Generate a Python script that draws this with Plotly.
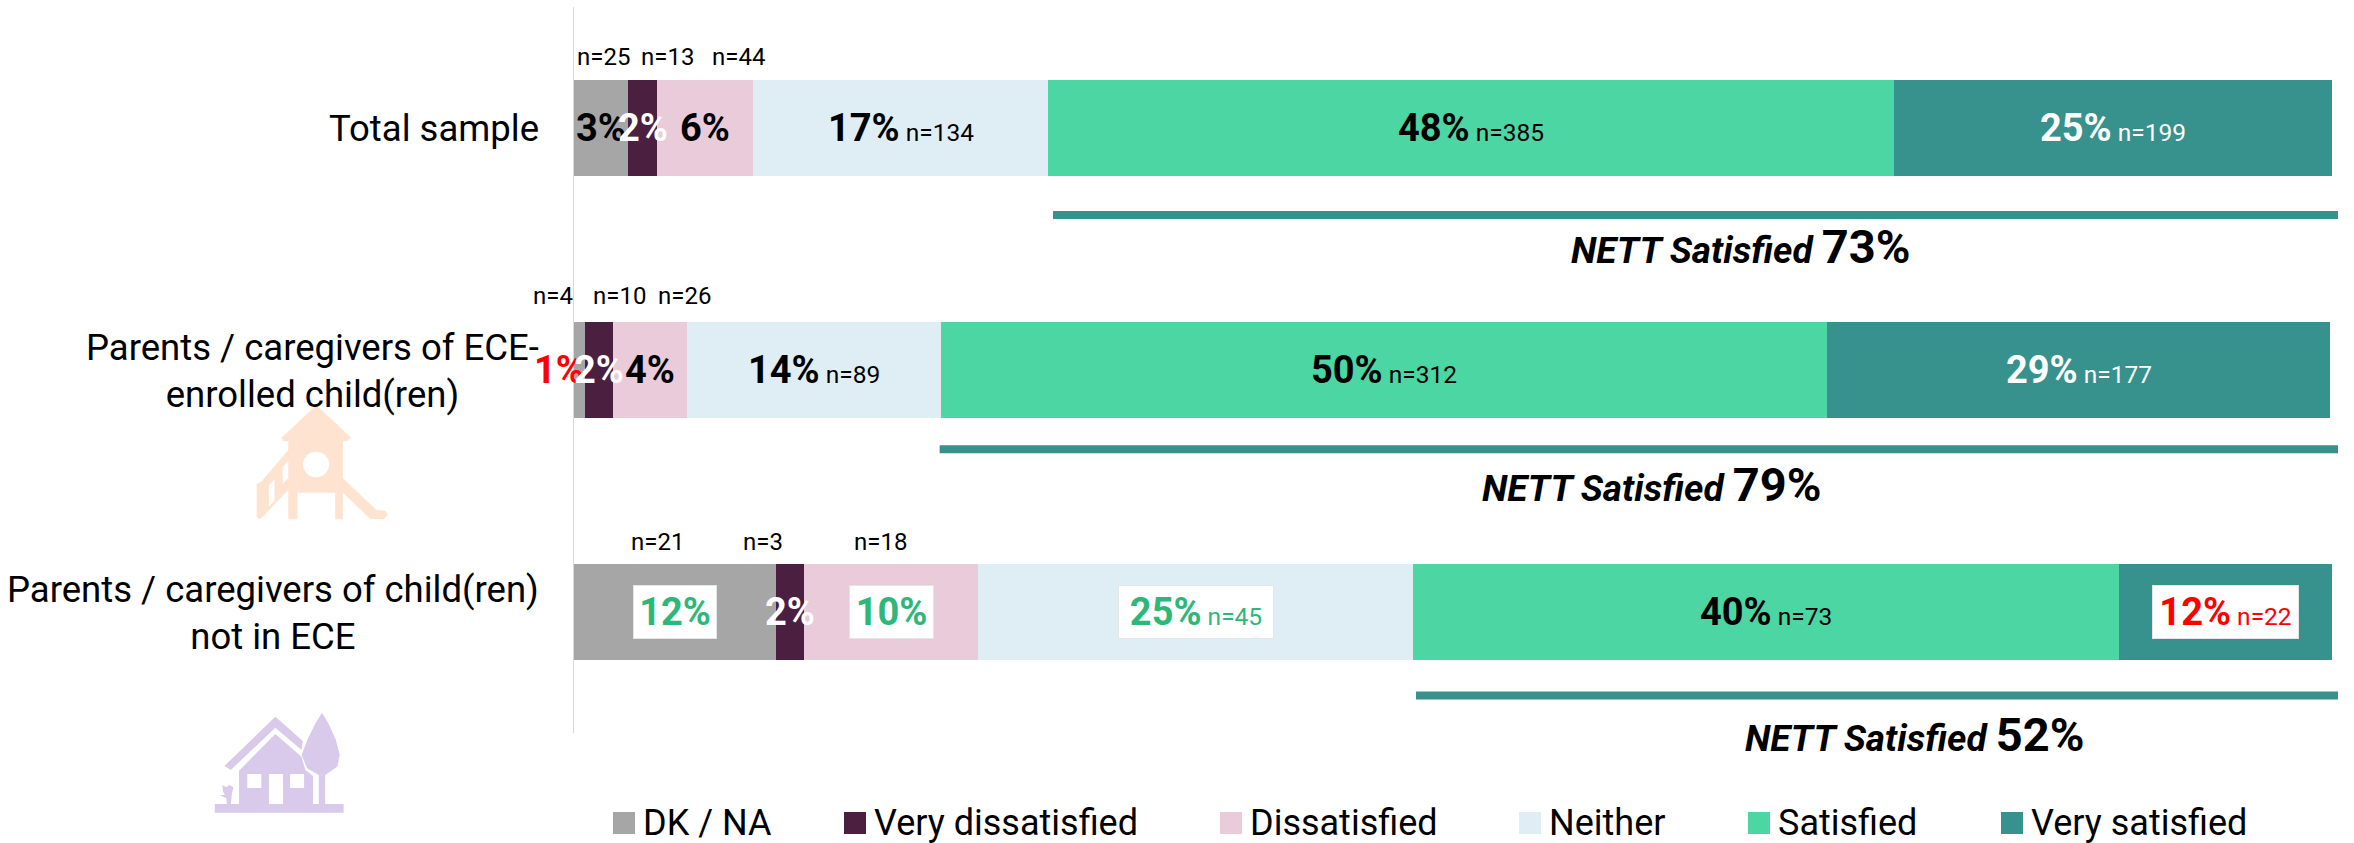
import plotly.graph_objects as go

W, H = 2354, 843
FONT = "Roboto"

rows = ["Total sample", "Parents / caregivers of ECE-<br>enrolled child(ren)",
        "Parents / caregivers of child(ren)<br>not in ECE"]
series = ["DK / NA", "Very dissatisfied", "Dissatisfied", "Neither", "Satisfied", "Very satisfied"]
colors = ["#A6A6A6", "#4B1F3F", "#E9CBDA", "#DFEDF4", "#4CD6A4", "#37918C"]

dk_na = [3.1, 0.6, 11.5]
very_dissatisfied = [1.6, 1.6, 1.6]
dissatisfied = [5.5, 4.2, 9.9]
neither = [16.75, 14.45, 24.75]
satisfied = [48.15, 50.45, 40.15]
very_satisfied = [24.9, 28.6, 12.1]
values = [dk_na, very_dissatisfied, dissatisfied, neither, satisfied, very_satisfied]

pct_labels = [["3%", "2%", "6%", "17%", "48%", "25%"],
              ["1%", "2%", "4%", "14%", "50%", "29%"],
              ["12%", "2%", "10%", "25%", "40%", "12%"]]
n_labels = [["n=25", "n=13", "n=44", "n=134", "n=385", "n=199"],
            ["n=4", "n=10", "n=26", "n=89", "n=312", "n=177"],
            ["n=21", "n=3", "n=18", "n=45", "n=73", "n=22"]]
GREEN, RED = "#2DB87A", "#FF0000"
text_colors = [["black", "white", "black", "black", "black", "white"],
               [RED, "white", "black", "black", "black", "white"],
               [GREEN, "white", GREEN, GREEN, "black", RED]]
box_widths = [[0] * 6, [0] * 6, [82, 0, 83, 154, 0, 145]]
pct_shift = [[0, 0, 0, 0, 0, 0], [-20, 0, 0, 0, 0, 0], [0, 0, 0, 0, 0, 0]]
n_above_shift = [[2, 25, 34], [-26, 21, 35], [-18, -27, -11]]
n_above_y = [71, 74, 70]

nett_values = ["73%", "79%", "52%"]
nett_start = [27.25, 20.8, 47.9]
nett_end = 100.35
nett_line_y = [0.36, 0.327, 0.345]
nett_text_x = [66.4, 61.3, 76.3]
nett_text_y = [0.49, 0.473, 0.49]
nett_text_shift = [0, 0, -4]

legend_swatch_x = [613, 844, 1220, 1519, 1748, 2001]


def px(x):
    return x / W


def py(y):
    return 1 - y / H


fig = go.Figure()
for name, vals, col in zip(series, values, colors):
    fig.add_trace(go.Bar(y=[0, 1, 2], x=vals, name=name, orientation="h",
                         marker=dict(color=col, line_width=0), showlegend=False))

for r in range(3):
    fig.add_trace(go.Scatter(x=[nett_start[r], nett_end], y=[r + nett_line_y[r]] * 2, mode="lines",
                             line=dict(color="#37918C", width=8),
                             showlegend=False, hoverinfo="skip"))

ann = []
for r in range(3):
    ann.append(dict(x=541 / W, xref="paper", y=r, yref="y", yshift=-1, xanchor="right", yanchor="middle",
                    text=rows[r], showarrow=False, align="center",
                    font=dict(family=FONT, size=36.5, color="black")))
    cum = 0
    for s in range(6):
        v = values[s][r]
        mid = cum + v / 2
        cum += v
        col = text_colors[r][s]
        t = f"<b>{pct_labels[r][s]}</b>"
        if s >= 3:
            t += f'<span style="font-size:24.5px"> {n_labels[r][s]}</span>'
        else:
            ann.append(dict(x=mid, y=r, xref="x", yref="y", yshift=n_above_y[r], xshift=n_above_shift[r][s],
                            text=n_labels[r][s], showarrow=False,
                            font=dict(family=FONT, size=24, color="black")))
        a = dict(x=mid, y=r, xref="x", yref="y", xshift=pct_shift[r][s], text=t, showarrow=False,
                 font=dict(family=FONT, size=38, color=col))
        if box_widths[r][s]:
            a.update(bgcolor="white", bordercolor="#E3E6E8", borderwidth=1, borderpad=0,
                     height=52, width=box_widths[r][s])
        ann.append(a)
    ann.append(dict(x=nett_text_x[r], y=r + nett_text_y[r], xref="x", yref="y", showarrow=False,
                    yshift=nett_text_shift[r],
                    text=f'<b><i>NETT Satisfied</i></b> <b><span style="font-size:47px">{nett_values[r]}</span></b>',
                    font=dict(family=FONT, size=37, color="black")))

shapes = []
for name, col, sx in zip(series, colors, legend_swatch_x):
    shapes.append(dict(type="rect", xref="paper", yref="paper", x0=px(sx), x1=px(sx + 22),
                       y0=py(834), y1=py(812), fillcolor=col, line_width=0))
    ann.append(dict(x=px(sx + 28), y=py(823), xref="paper", yref="paper", xanchor="left", yanchor="middle",
                    text=name, showarrow=False, font=dict(family=FONT, size=36, color="black")))


def poly(points, x0, y0, sx, sy):
    return "M" + "L".join(f"{px(x0 + a / sx):.5f},{py(y0 + b / sy):.5f}" for a, b in points) + "Z"


def icon(parts, col, x0, y0, sx, sy):
    shapes.append(dict(type="path", xref="paper", yref="paper", fillcolor=col, line_width=0, layer="below",
                       path="".join(poly(p, x0, y0, sx, sy) for p in parts)))


slide = [
    [(620, 315), (688, 413), (680, 424), (672, 424), (672, 658), (657, 658), (657, 578), (583, 578),
     (583, 658), (565, 658), (565, 424), (556, 424), (552, 413)],
    [(672, 535), (738, 630), (755, 632), (760, 645), (752, 658), (725, 656), (672, 578)],
    [(565, 450), (565, 482), (554, 500), (554, 552), (565, 535), (565, 570), (515, 650), (508, 658),
     (503, 650), (503, 552), (512, 545)],
    [(527, 556), (538, 538), (538, 602), (527, 620)],
]
icon(slide, "#FFE3D1", 0, 300, 1.96, 3)
shapes.append(dict(type="circle", xref="paper", yref="paper", fillcolor="white", line_width=0,
                   x0=px(594 / 1.96), x1=px(645 / 1.96), y0=py(300 + 532 / 3), y1=py(300 + 455 / 3)))

house = [
    [(275, 410), (318, 483), (316, 510), (275, 443), (205, 570), (195, 558)],
    [(275, 462), (316, 530), (322, 570), (334, 588), (334, 672), (218, 672), (218, 572)],
    [(231, 582), (253, 582), (253, 624), (231, 624)],
    [(298, 582), (320, 582), (320, 624), (298, 624)],
    [(265, 582), (287, 582), (287, 672), (265, 672)],
    [(348, 398), (358, 430), (370, 480), (376, 525), (372, 560), (353, 585), (353, 672), (343, 672), (343, 585),
     (325, 565), (316, 525), (325, 480), (338, 430)],
    [(180, 672), (382, 672), (382, 698), (180, 698)],
    [(192, 615), (198, 622), (203, 615), (209, 622), (207, 640), (205, 672), (199, 672), (198, 655), (188, 645),
     (196, 645), (193, 635)],
]
icon(house, "#D9CAEB", 100, 580, 1.568, 3)

fig.update_layout(
    width=W, height=H, barmode="stack", bargap=0.6, showlegend=False,
    paper_bgcolor="white", plot_bgcolor="white",
    margin=dict(l=0, r=0, t=0, b=0),
    xaxis=dict(domain=[574 / W, 2338 / W], range=[0, nett_end], visible=False),
    yaxis=dict(domain=[1 - 733 / H, 1 - 7 / H], range=[2.5, -0.5], showticklabels=False, ticks="",
               showgrid=False, zeroline=False, showline=True, linecolor="#D9D9D9", linewidth=1),
    annotations=ann, shapes=shapes,
    font=dict(family=FONT),
)

fig.write_html("out.html", config={"displayModeBar": False},
               post_script="document.body.style.margin='0';document.body.style.overflow='hidden';")
